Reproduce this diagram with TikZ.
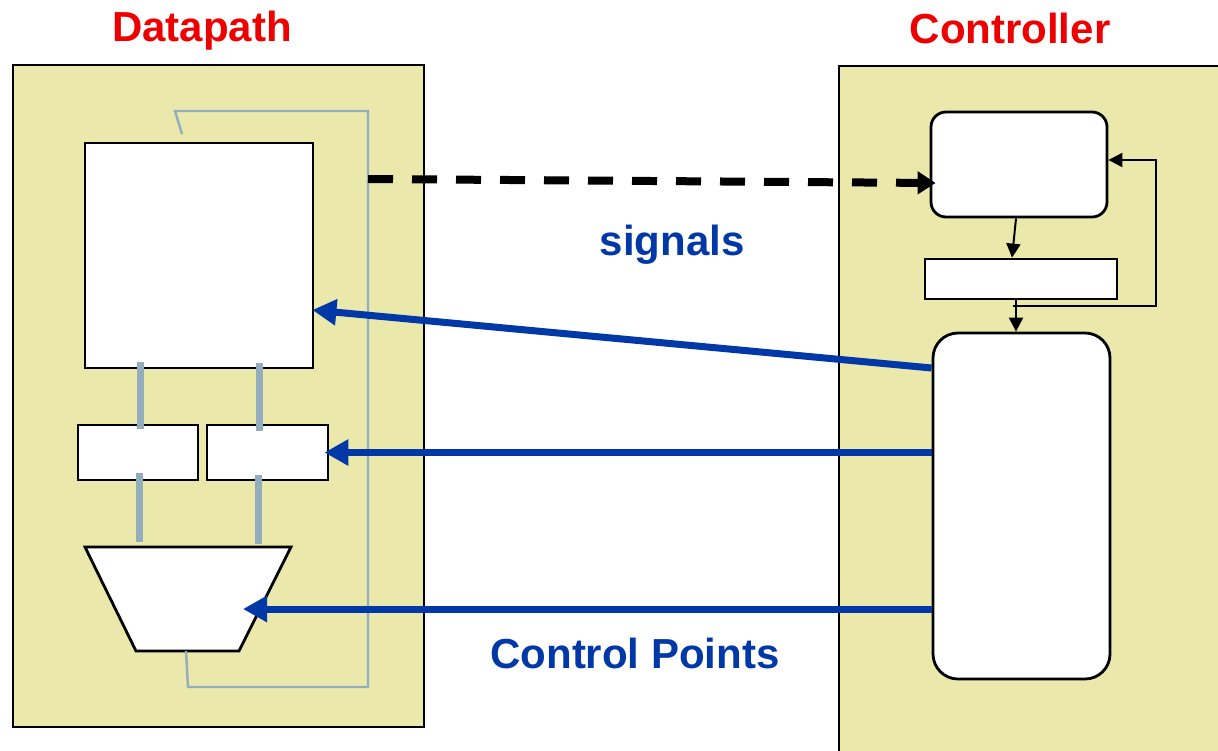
\documentclass[tikz,border=0pt]{standalone}
\usepackage{fontspec}
\setmainfont{Liberation Sans}
\usetikzlibrary{arrows.meta,calc}
\definecolor{panelfill}{RGB}{235,232,172}
\definecolor{busgray}{RGB}{148,173,189}
\definecolor{ctlblue}{RGB}{0,56,168}
\definecolor{titlered}{RGB}{238,0,0}
\tikzset{
  panel/.style={draw=black, line width=1.3pt, fill=panelfill},
  box/.style={draw=black, line width=1.4pt, fill=white, inner sep=0pt},
  rbox/.style={box, rounded corners=#1},
  bus/.style={busgray, line width=3.5pt},
  loopwire/.style={busgray, line width=1.2pt},
  ctlarrow/.style={ctlblue, line width=3.5pt, -{Triangle[length=12pt,width=12.5pt]}},
  fsmarrow/.style={black, line width=1pt, -{Triangle[length=7pt,width=7pt]}},
  sigarrow/.style={black, line width=4pt, dash pattern=on 12.5pt off 9.5pt,
    -{Triangle[length=9pt,width=11pt]}},
  title/.style={text=titlered, font=\fontsize{21pt}{25pt}\selectfont\bfseries},
  blabel/.style={text=ctlblue, font=\fontsize{21pt}{25pt}\selectfont\bfseries}
}
\begin{document}
\begin{tikzpicture}[x=0.5pt, y=-0.5pt]
\clip (0,0) rectangle (1218,750);
\fill[white] (0,0) rectangle (1218,750);

% panels
\draw[panel] (13,65) rectangle (424,727);
\draw[panel] (839,66) rectangle (1240,770);

% titles
\node[title] (tdp) at (202,31) {Datapath};
\node[title] (tct) at (1010,28) {Controller};

% datapath: register file, operand registers, ALU
\node[box, minimum width=114pt, minimum height=112.5pt] (rf) at (199,255.5) {};
\node[box, minimum width=60pt, minimum height=27.5pt] (ra) at (138,452.5) {};
\node[box, minimum width=60.5pt, minimum height=27.5pt] (rb) at (267.5,452.5) {};
\draw[box] (85,547) -- (291,547) -- (239,651) -- (136,651) -- cycle;
\coordinate (aluin) at (243,609);

% buses
\draw[bus] (140,362) -- (140,429);
\draw[bus] (259,363) -- (259,431);
\draw[bus] (139,473) -- (139,542);
\draw[bus] (258,475) -- (258,544);

% result write-back loop
\draw[loopwire] (186,651) -- (188,687) -- (368,687) -- (368,111) -- (175,111) -- (182,134);

% controller: next-state logic, state register, output logic
\node[rbox=7.5pt, minimum width=88pt, minimum height=52.5pt] (ns) at (1019,164.5) {};
\node[box, minimum width=96pt, minimum height=20pt] (st) at (1021,279) {};
\node[rbox=12.5pt, minimum width=88.5pt, minimum height=173pt] (ol) at (1021.5,506) {};

\draw[fsmarrow] ([xshift=-1.5pt]ns.south) -- ([xshift=-4.5pt]st.north);
\draw[fsmarrow] ([xshift=-2.5pt]st.south) -- ([xshift=-2.75pt]ol.north);
\coordinate (fbA) at (1013,306);
\coordinate (fbB) at (1156,160);
\draw[fsmarrow] (fbA) -| (fbB) -- (fbB -| ns.east);

% status signals
\coordinate (sigsrc) at (368,179);
\draw[sigarrow] (sigsrc) -- ([xshift=3pt, yshift=-9.25pt]ns.west);
\node[blabel] (lsig) at (672,245) {signals};

% control points
\draw[ctlarrow] ([yshift=69pt]ol.west) -- ([xshift=-1pt, yshift=-27.25pt]rf.east);
\draw[ctlarrow] (rb.east -| ol.west) -- ([xshift=-2.5pt]rb.east);
\draw[ctlarrow] (aluin -| ol.west) -- (aluin);
\node[blabel] (lcp) at (635,653) {Control Points};
\end{tikzpicture}
\end{document}
